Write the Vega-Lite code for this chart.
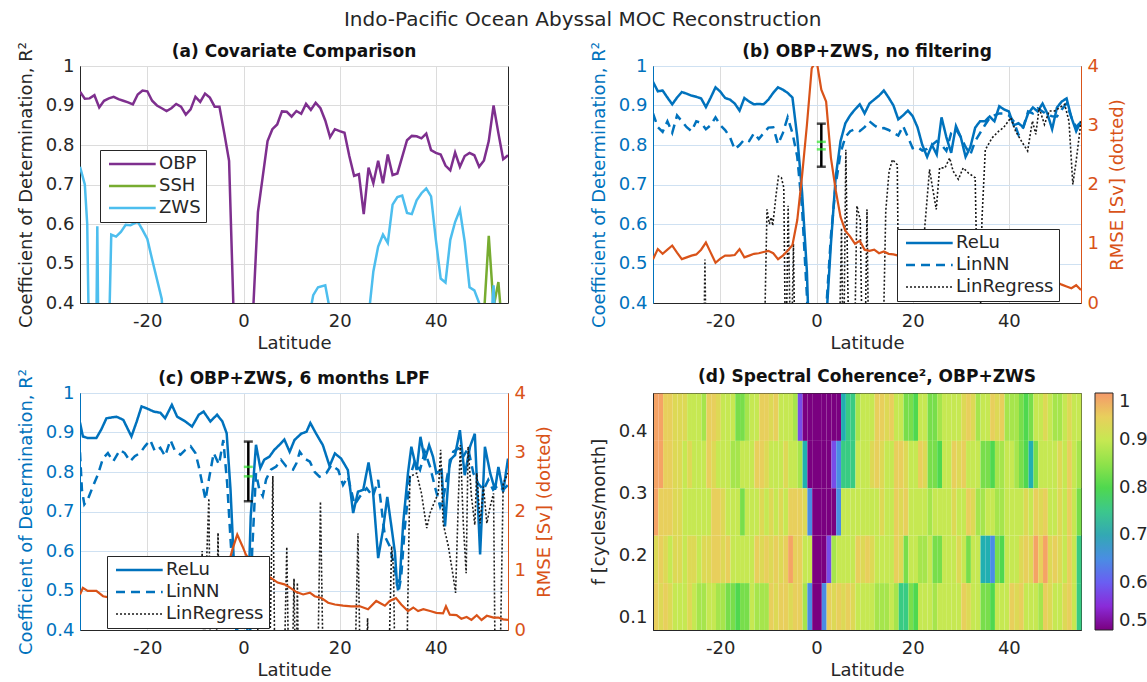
{
"$schema": "https://vega.github.io/schema/vega-lite/v6.json",
"padding": {"left": 16, "top": 10, "right": 0, "bottom": 0},
"background": "white",
"title": {"text": "Indo-Pacific Ocean Abyssal MOC Reconstruction", "fontSize": 20, "fontWeight": "normal", "color": "#262626", "anchor": "middle", "offset": 10.5},
"datasets": {
"covar": [
{"s":"OBP","lat":-34,"v":0.935},{"s":"OBP","lat":-33,"v":0.917},{"s":"OBP","lat":-32,"v":0.918},{"s":"OBP","lat":-31,"v":0.926},{"s":"OBP","lat":-30,"v":0.895},{"s":"OBP","lat":-29,"v":0.912},{"s":"OBP","lat":-28,"v":0.918},{"s":"OBP","lat":-27,"v":0.922},{"s":"OBP","lat":-26,"v":0.916},{"s":"OBP","lat":-25,"v":0.912},{"s":"OBP","lat":-24,"v":0.908},{"s":"OBP","lat":-23,"v":0.903},{"s":"OBP","lat":-22,"v":0.928},{"s":"OBP","lat":-21,"v":0.938},{"s":"OBP","lat":-20,"v":0.936},{"s":"OBP","lat":-19,"v":0.912},{"s":"OBP","lat":-18,"v":0.9},{"s":"OBP","lat":-17,"v":0.893},{"s":"OBP","lat":-16,"v":0.886},{"s":"OBP","lat":-15,"v":0.893},{"s":"OBP","lat":-14,"v":0.904},{"s":"OBP","lat":-13,"v":0.897},{"s":"OBP","lat":-12,"v":0.877},{"s":"OBP","lat":-11,"v":0.89},{"s":"OBP","lat":-10,"v":0.922},{"s":"OBP","lat":-9,"v":0.909},{"s":"OBP","lat":-8,"v":0.93},{"s":"OBP","lat":-7,"v":0.92},{"s":"OBP","lat":-6,"v":0.897},{"s":"OBP","lat":-5,"v":0.897},{"s":"OBP","lat":-4,"v":0.83},{"s":"OBP","lat":-3,"v":0.76},{"s":"OBP","lat":-2,"v":0.35},{"s":"OBP","lat":-1,"v":0.0},{"s":"OBP","lat":0,"v":-0.3},{"s":"OBP","lat":1,"v":0.0},{"s":"OBP","lat":2,"v":0.38},{"s":"OBP","lat":3,"v":0.63},{"s":"OBP","lat":4,"v":0.72},{"s":"OBP","lat":5,"v":0.81},{"s":"OBP","lat":6,"v":0.84},{"s":"OBP","lat":7,"v":0.852},{"s":"OBP","lat":8,"v":0.885},{"s":"OBP","lat":9,"v":0.884},{"s":"OBP","lat":10,"v":0.872},{"s":"OBP","lat":11,"v":0.886},{"s":"OBP","lat":12,"v":0.879},{"s":"OBP","lat":13,"v":0.904},{"s":"OBP","lat":14,"v":0.889},{"s":"OBP","lat":15,"v":0.907},{"s":"OBP","lat":16,"v":0.893},{"s":"OBP","lat":17,"v":0.862},{"s":"OBP","lat":18,"v":0.82},{"s":"OBP","lat":19,"v":0.84},{"s":"OBP","lat":20,"v":0.835},{"s":"OBP","lat":21,"v":0.831},{"s":"OBP","lat":22,"v":0.772},{"s":"OBP","lat":23,"v":0.722},{"s":"OBP","lat":24,"v":0.726},{"s":"OBP","lat":25,"v":0.625},{"s":"OBP","lat":26,"v":0.743},{"s":"OBP","lat":27,"v":0.703},{"s":"OBP","lat":28,"v":0.76},{"s":"OBP","lat":29,"v":0.703},{"s":"OBP","lat":30,"v":0.776},{"s":"OBP","lat":31,"v":0.724},{"s":"OBP","lat":32,"v":0.728},{"s":"OBP","lat":33,"v":0.77},{"s":"OBP","lat":34,"v":0.812},{"s":"OBP","lat":35,"v":0.823},{"s":"OBP","lat":36,"v":0.822},{"s":"OBP","lat":37,"v":0.817},{"s":"OBP","lat":38,"v":0.829},{"s":"OBP","lat":39,"v":0.787},{"s":"OBP","lat":40,"v":0.78},{"s":"OBP","lat":41,"v":0.776},{"s":"OBP","lat":42,"v":0.748},{"s":"OBP","lat":43,"v":0.736},{"s":"OBP","lat":44,"v":0.781},{"s":"OBP","lat":45,"v":0.745},{"s":"OBP","lat":46,"v":0.772},{"s":"OBP","lat":47,"v":0.78},{"s":"OBP","lat":48,"v":0.774},{"s":"OBP","lat":49,"v":0.745},{"s":"OBP","lat":50,"v":0.761},{"s":"OBP","lat":51,"v":0.81},{"s":"OBP","lat":52,"v":0.9},{"s":"OBP","lat":53,"v":0.83},{"s":"OBP","lat":54,"v":0.764},{"s":"OBP","lat":55,"v":0.774},
{"s":"SSH","lat":49,"v":0.2},{"s":"SSH","lat":50,"v":0.37},{"s":"SSH","lat":51,"v":0.57},{"s":"SSH","lat":52,"v":0.39},{"s":"SSH","lat":53,"v":0.453},{"s":"SSH","lat":53.5,"v":0.38},{"s":"SSH","lat":54,"v":0.2},
{"s":"ZWS","lat":-34,"v":0.745},{"s":"ZWS","lat":-33,"v":0.7},{"s":"ZWS","lat":-32.5,"v":0.6},{"s":"ZWS","lat":-32,"v":0.2},{"s":"ZWS","lat":-30.7,"v":0.2},{"s":"ZWS","lat":-30.4,"v":0.594},{"s":"ZWS","lat":-30.1,"v":0.2},{"s":"ZWS","lat":-28.2,"v":0.2},{"s":"ZWS","lat":-27.5,"v":0.573},{"s":"ZWS","lat":-26.5,"v":0.568},{"s":"ZWS","lat":-25.5,"v":0.58},{"s":"ZWS","lat":-24.5,"v":0.598},{"s":"ZWS","lat":-23.5,"v":0.597},{"s":"ZWS","lat":-22,"v":0.606},{"s":"ZWS","lat":-21,"v":0.585},{"s":"ZWS","lat":-20,"v":0.562},{"s":"ZWS","lat":-19,"v":0.51},{"s":"ZWS","lat":-18,"v":0.46},{"s":"ZWS","lat":-17,"v":0.41},{"s":"ZWS","lat":-16,"v":0.2},{"s":"ZWS","lat":13,"v":0.2},{"s":"ZWS","lat":14.2,"v":0.4},{"s":"ZWS","lat":14.5,"v":0.42},{"s":"ZWS","lat":15.5,"v":0.44},{"s":"ZWS","lat":17,"v":0.445},{"s":"ZWS","lat":18,"v":0.38},{"s":"ZWS","lat":19,"v":0.2},{"s":"ZWS","lat":25.5,"v":0.2},{"s":"ZWS","lat":26.3,"v":0.4},{"s":"ZWS","lat":27,"v":0.48},{"s":"ZWS","lat":28,"v":0.543},{"s":"ZWS","lat":29,"v":0.573},{"s":"ZWS","lat":30,"v":0.552},{"s":"ZWS","lat":31,"v":0.649},{"s":"ZWS","lat":32,"v":0.668},{"s":"ZWS","lat":33,"v":0.672},{"s":"ZWS","lat":34,"v":0.628},{"s":"ZWS","lat":35,"v":0.625},{"s":"ZWS","lat":36,"v":0.66},{"s":"ZWS","lat":37,"v":0.678},{"s":"ZWS","lat":38,"v":0.69},{"s":"ZWS","lat":39,"v":0.67},{"s":"ZWS","lat":40,"v":0.56},{"s":"ZWS","lat":41,"v":0.462},{"s":"ZWS","lat":42,"v":0.452},{"s":"ZWS","lat":43,"v":0.56},{"s":"ZWS","lat":44,"v":0.605},{"s":"ZWS","lat":45,"v":0.636},{"s":"ZWS","lat":46,"v":0.555},{"s":"ZWS","lat":47,"v":0.44},{"s":"ZWS","lat":48,"v":0.432},{"s":"ZWS","lat":49,"v":0.4},{"s":"ZWS","lat":50,"v":0.2},{"s":"ZWS","lat":51.5,"v":0.35},{"s":"ZWS","lat":52,"v":0.445},{"s":"ZWS","lat":52.5,"v":0.3},{"s":"ZWS","lat":53,"v":0.2}
],
"nofilt": [
{"s":"ReLu","lat":-34,"v":0.96},{"s":"ReLu","lat":-33,"v":0.936},{"s":"ReLu","lat":-32,"v":0.938},{"s":"ReLu","lat":-31,"v":0.92},{"s":"ReLu","lat":-30,"v":0.903},{"s":"ReLu","lat":-29,"v":0.92},{"s":"ReLu","lat":-28,"v":0.934},{"s":"ReLu","lat":-27,"v":0.93},{"s":"ReLu","lat":-26,"v":0.925},{"s":"ReLu","lat":-25,"v":0.922},{"s":"ReLu","lat":-24,"v":0.918},{"s":"ReLu","lat":-23,"v":0.896},{"s":"ReLu","lat":-22,"v":0.92},{"s":"ReLu","lat":-21,"v":0.946},{"s":"ReLu","lat":-20,"v":0.935},{"s":"ReLu","lat":-19,"v":0.919},{"s":"ReLu","lat":-18,"v":0.915},{"s":"ReLu","lat":-17,"v":0.905},{"s":"ReLu","lat":-16,"v":0.887},{"s":"ReLu","lat":-15,"v":0.919},{"s":"ReLu","lat":-14,"v":0.91},{"s":"ReLu","lat":-13,"v":0.903},{"s":"ReLu","lat":-12,"v":0.904},{"s":"ReLu","lat":-11,"v":0.903},{"s":"ReLu","lat":-10,"v":0.915},{"s":"ReLu","lat":-9,"v":0.932},{"s":"ReLu","lat":-8,"v":0.946},{"s":"ReLu","lat":-7,"v":0.94},{"s":"ReLu","lat":-6,"v":0.932},{"s":"ReLu","lat":-5,"v":0.92},{"s":"ReLu","lat":-4,"v":0.82},{"s":"ReLu","lat":-3,"v":0.68},{"s":"ReLu","lat":-2,"v":0.48},{"s":"ReLu","lat":-1,"v":0.1},{"s":"ReLu","lat":0,"v":-0.1},{"s":"ReLu","lat":1,"v":0.1},{"s":"ReLu","lat":2,"v":0.35},{"s":"ReLu","lat":3,"v":0.55},{"s":"ReLu","lat":4,"v":0.72},{"s":"ReLu","lat":5,"v":0.81},{"s":"ReLu","lat":6,"v":0.855},{"s":"ReLu","lat":7,"v":0.875},{"s":"ReLu","lat":8,"v":0.89},{"s":"ReLu","lat":9,"v":0.903},{"s":"ReLu","lat":10,"v":0.88},{"s":"ReLu","lat":11,"v":0.905},{"s":"ReLu","lat":12,"v":0.915},{"s":"ReLu","lat":13,"v":0.925},{"s":"ReLu","lat":14,"v":0.938},{"s":"ReLu","lat":15,"v":0.92},{"s":"ReLu","lat":16,"v":0.9},{"s":"ReLu","lat":17,"v":0.865},{"s":"ReLu","lat":18,"v":0.875},{"s":"ReLu","lat":19,"v":0.887},{"s":"ReLu","lat":20,"v":0.873},{"s":"ReLu","lat":21,"v":0.845},{"s":"ReLu","lat":22,"v":0.8},{"s":"ReLu","lat":23,"v":0.77},{"s":"ReLu","lat":24,"v":0.8},{"s":"ReLu","lat":25,"v":0.776},{"s":"ReLu","lat":26,"v":0.87},{"s":"ReLu","lat":27,"v":0.82},{"s":"ReLu","lat":28,"v":0.78},{"s":"ReLu","lat":29,"v":0.848},{"s":"ReLu","lat":30,"v":0.82},{"s":"ReLu","lat":31,"v":0.77},{"s":"ReLu","lat":32,"v":0.795},{"s":"ReLu","lat":33,"v":0.844},{"s":"ReLu","lat":34,"v":0.86},{"s":"ReLu","lat":35,"v":0.86},{"s":"ReLu","lat":36,"v":0.872},{"s":"ReLu","lat":37,"v":0.86},{"s":"ReLu","lat":38,"v":0.898},{"s":"ReLu","lat":39,"v":0.89},{"s":"ReLu","lat":40,"v":0.885},{"s":"ReLu","lat":41,"v":0.85},{"s":"ReLu","lat":42,"v":0.855},{"s":"ReLu","lat":43,"v":0.845},{"s":"ReLu","lat":44,"v":0.88},{"s":"ReLu","lat":45,"v":0.895},{"s":"ReLu","lat":46,"v":0.885},{"s":"ReLu","lat":47,"v":0.905},{"s":"ReLu","lat":48,"v":0.88},{"s":"ReLu","lat":49,"v":0.84},{"s":"ReLu","lat":50,"v":0.895},{"s":"ReLu","lat":51,"v":0.91},{"s":"ReLu","lat":52,"v":0.918},{"s":"ReLu","lat":53,"v":0.87},{"s":"ReLu","lat":54,"v":0.835},{"s":"ReLu","lat":55,"v":0.86},
{"s":"LinNN","lat":-34,"v":0.88},{"s":"LinNN","lat":-33,"v":0.845},{"s":"LinNN","lat":-32,"v":0.833},{"s":"LinNN","lat":-31,"v":0.86},{"s":"LinNN","lat":-30,"v":0.831},{"s":"LinNN","lat":-29,"v":0.875},{"s":"LinNN","lat":-28,"v":0.86},{"s":"LinNN","lat":-27,"v":0.845},{"s":"LinNN","lat":-26,"v":0.835},{"s":"LinNN","lat":-25,"v":0.86},{"s":"LinNN","lat":-24,"v":0.856},{"s":"LinNN","lat":-23,"v":0.84},{"s":"LinNN","lat":-22,"v":0.85},{"s":"LinNN","lat":-21,"v":0.87},{"s":"LinNN","lat":-20,"v":0.85},{"s":"LinNN","lat":-19,"v":0.838},{"s":"LinNN","lat":-18,"v":0.82},{"s":"LinNN","lat":-17,"v":0.789},{"s":"LinNN","lat":-16,"v":0.8},{"s":"LinNN","lat":-15,"v":0.814},{"s":"LinNN","lat":-14,"v":0.81},{"s":"LinNN","lat":-13,"v":0.83},{"s":"LinNN","lat":-12,"v":0.815},{"s":"LinNN","lat":-11,"v":0.83},{"s":"LinNN","lat":-10,"v":0.844},{"s":"LinNN","lat":-9,"v":0.845},{"s":"LinNN","lat":-8,"v":0.802},{"s":"LinNN","lat":-7,"v":0.83},{"s":"LinNN","lat":-6,"v":0.87},{"s":"LinNN","lat":-5,"v":0.83},{"s":"LinNN","lat":-4,"v":0.77},{"s":"LinNN","lat":-3,"v":0.64},{"s":"LinNN","lat":-2,"v":0.42},{"s":"LinNN","lat":-1,"v":0.1},{"s":"LinNN","lat":0,"v":-0.2},{"s":"LinNN","lat":1,"v":0.0},{"s":"LinNN","lat":2,"v":0.38},{"s":"LinNN","lat":3,"v":0.57},{"s":"LinNN","lat":4,"v":0.7},{"s":"LinNN","lat":5,"v":0.78},{"s":"LinNN","lat":6,"v":0.82},{"s":"LinNN","lat":7,"v":0.835},{"s":"LinNN","lat":8,"v":0.84},{"s":"LinNN","lat":9,"v":0.835},{"s":"LinNN","lat":10,"v":0.845},{"s":"LinNN","lat":11,"v":0.86},{"s":"LinNN","lat":12,"v":0.85},{"s":"LinNN","lat":13,"v":0.842},{"s":"LinNN","lat":14,"v":0.843},{"s":"LinNN","lat":15,"v":0.838},{"s":"LinNN","lat":16,"v":0.831},{"s":"LinNN","lat":17,"v":0.824},{"s":"LinNN","lat":18,"v":0.848},{"s":"LinNN","lat":19,"v":0.82},{"s":"LinNN","lat":20,"v":0.792},{"s":"LinNN","lat":21,"v":0.795},{"s":"LinNN","lat":22,"v":0.786},{"s":"LinNN","lat":23,"v":0.79},{"s":"LinNN","lat":24,"v":0.8},{"s":"LinNN","lat":25,"v":0.81},{"s":"LinNN","lat":26,"v":0.8},{"s":"LinNN","lat":27,"v":0.785},{"s":"LinNN","lat":28,"v":0.83},{"s":"LinNN","lat":29,"v":0.84},{"s":"LinNN","lat":30,"v":0.82},{"s":"LinNN","lat":31,"v":0.795},{"s":"LinNN","lat":32,"v":0.776},{"s":"LinNN","lat":33,"v":0.81},{"s":"LinNN","lat":34,"v":0.83},{"s":"LinNN","lat":35,"v":0.85},{"s":"LinNN","lat":36,"v":0.868},{"s":"LinNN","lat":37,"v":0.875},{"s":"LinNN","lat":38,"v":0.88},{"s":"LinNN","lat":39,"v":0.88},{"s":"LinNN","lat":40,"v":0.875},{"s":"LinNN","lat":41,"v":0.86},{"s":"LinNN","lat":42,"v":0.826},{"s":"LinNN","lat":43,"v":0.845},{"s":"LinNN","lat":44,"v":0.885},{"s":"LinNN","lat":45,"v":0.88},{"s":"LinNN","lat":46,"v":0.893},{"s":"LinNN","lat":47,"v":0.885},{"s":"LinNN","lat":48,"v":0.876},{"s":"LinNN","lat":49,"v":0.873},{"s":"LinNN","lat":50,"v":0.872},{"s":"LinNN","lat":51,"v":0.89},{"s":"LinNN","lat":52,"v":0.905},{"s":"LinNN","lat":53,"v":0.87},{"s":"LinNN","lat":54,"v":0.845},{"s":"LinNN","lat":55,"v":0.86},
{"s":"LinRegress","lat":-34,"v":0.2},{"s":"LinRegress","lat":-23.5,"v":0.2},{"s":"LinRegress","lat":-23.2,"v":0.51},{"s":"LinRegress","lat":-22.9,"v":0.2},{"s":"LinRegress","lat":-11,"v":0.2},{"s":"LinRegress","lat":-10.3,"v":0.637},{"s":"LinRegress","lat":-9.8,"v":0.6},{"s":"LinRegress","lat":-9.4,"v":0.617},{"s":"LinRegress","lat":-9.1,"v":0.596},{"s":"LinRegress","lat":-8.4,"v":0.675},{"s":"LinRegress","lat":-7.9,"v":0.721},{"s":"LinRegress","lat":-7.3,"v":0.717},{"s":"LinRegress","lat":-6.8,"v":0.692},{"s":"LinRegress","lat":-6.4,"v":0.2},{"s":"LinRegress","lat":-5.9,"v":0.646},{"s":"LinRegress","lat":-5.3,"v":0.2},{"s":"LinRegress","lat":-4.8,"v":0.55},{"s":"LinRegress","lat":-4.4,"v":0.2},{"s":"LinRegress","lat":4.6,"v":0.2},{"s":"LinRegress","lat":5.2,"v":0.59},{"s":"LinRegress","lat":5.6,"v":0.2},{"s":"LinRegress","lat":6.1,"v":0.788},{"s":"LinRegress","lat":6.5,"v":0.45},{"s":"LinRegress","lat":6.9,"v":0.2},{"s":"LinRegress","lat":7.8,"v":0.2},{"s":"LinRegress","lat":8.4,"v":0.646},{"s":"LinRegress","lat":9.1,"v":0.61},{"s":"LinRegress","lat":9.6,"v":0.2},{"s":"LinRegress","lat":10.0,"v":0.2},{"s":"LinRegress","lat":10.5,"v":0.637},{"s":"LinRegress","lat":10.9,"v":0.2},{"s":"LinRegress","lat":13.7,"v":0.2},{"s":"LinRegress","lat":14.4,"v":0.633},{"s":"LinRegress","lat":15.1,"v":0.734},{"s":"LinRegress","lat":15.8,"v":0.763},{"s":"LinRegress","lat":16.8,"v":0.75},{"s":"LinRegress","lat":17.2,"v":0.2},{"s":"LinRegress","lat":21.4,"v":0.2},{"s":"LinRegress","lat":22.5,"v":0.59},{"s":"LinRegress","lat":23.5,"v":0.738},{"s":"LinRegress","lat":24.2,"v":0.687},{"s":"LinRegress","lat":24.9,"v":0.637},{"s":"LinRegress","lat":25.6,"v":0.742},{"s":"LinRegress","lat":26.7,"v":0.742},{"s":"LinRegress","lat":27.7,"v":0.767},{"s":"LinRegress","lat":28.4,"v":0.734},{"s":"LinRegress","lat":29.5,"v":0.713},{"s":"LinRegress","lat":30.5,"v":0.742},{"s":"LinRegress","lat":31.6,"v":0.729},{"s":"LinRegress","lat":33.0,"v":0.717},{"s":"LinRegress","lat":33.3,"v":0.51},{"s":"LinRegress","lat":33.7,"v":0.2},{"s":"LinRegress","lat":34.0,"v":0.3},{"s":"LinRegress","lat":34.4,"v":0.61},{"s":"LinRegress","lat":35.1,"v":0.788},{"s":"LinRegress","lat":36.5,"v":0.818},{"s":"LinRegress","lat":37.9,"v":0.835},{"s":"LinRegress","lat":38.9,"v":0.844},{"s":"LinRegress","lat":40.4,"v":0.869},{"s":"LinRegress","lat":41.4,"v":0.835},{"s":"LinRegress","lat":42.8,"v":0.806},{"s":"LinRegress","lat":43.9,"v":0.785},{"s":"LinRegress","lat":44.9,"v":0.861},{"s":"LinRegress","lat":45.6,"v":0.827},{"s":"LinRegress","lat":46.3,"v":0.894},{"s":"LinRegress","lat":47.4,"v":0.852},{"s":"LinRegress","lat":48.4,"v":0.886},{"s":"LinRegress","lat":49.5,"v":0.886},{"s":"LinRegress","lat":50.5,"v":0.894},{"s":"LinRegress","lat":51.6,"v":0.903},{"s":"LinRegress","lat":52.5,"v":0.86},{"s":"LinRegress","lat":53.3,"v":0.7},{"s":"LinRegress","lat":54,"v":0.76},{"s":"LinRegress","lat":55,"v":0.86}
],
"rmse_b": [
{"lat":-34,"rmse":0.74},{"lat":-33,"rmse":0.91},{"lat":-32,"rmse":0.83},{"lat":-31,"rmse":0.9},{"lat":-30,"rmse":0.97},{"lat":-29,"rmse":0.85},{"lat":-28,"rmse":0.74},{"lat":-27,"rmse":0.77},{"lat":-26,"rmse":0.8},{"lat":-25,"rmse":0.82},{"lat":-24,"rmse":0.9},{"lat":-23,"rmse":1.02},{"lat":-22,"rmse":0.85},{"lat":-21,"rmse":0.68},{"lat":-20,"rmse":0.75},{"lat":-19,"rmse":0.8},{"lat":-18,"rmse":0.8},{"lat":-17,"rmse":0.81},{"lat":-16,"rmse":0.91},{"lat":-15,"rmse":0.77},{"lat":-14,"rmse":0.8},{"lat":-13,"rmse":0.83},{"lat":-12,"rmse":0.84},{"lat":-11,"rmse":0.86},{"lat":-10,"rmse":0.88},{"lat":-9,"rmse":0.84},{"lat":-8,"rmse":0.74},{"lat":-7,"rmse":0.8},{"lat":-6,"rmse":0.88},{"lat":-5,"rmse":0.98},{"lat":-4,"rmse":1.4},{"lat":-3,"rmse":2.15},{"lat":-2,"rmse":3.0},{"lat":-1,"rmse":3.96},{"lat":0,"rmse":4.1},{"lat":1,"rmse":3.6},{"lat":2,"rmse":3.4},{"lat":3,"rmse":2.45},{"lat":4,"rmse":1.9},{"lat":5,"rmse":1.45},{"lat":6,"rmse":1.22},{"lat":7,"rmse":1.12},{"lat":8,"rmse":1.0},{"lat":9,"rmse":1.05},{"lat":10,"rmse":0.9},{"lat":11,"rmse":0.88},{"lat":12,"rmse":0.9},{"lat":13,"rmse":0.84},{"lat":14,"rmse":0.87},{"lat":15,"rmse":0.83},{"lat":16,"rmse":0.82},{"lat":17,"rmse":0.8},{"lat":18,"rmse":0.78},{"lat":20,"rmse":0.72},{"lat":25,"rmse":0.62},{"lat":30,"rmse":0.55},{"lat":35,"rmse":0.5},{"lat":40,"rmse":0.45},{"lat":45,"rmse":0.42},{"lat":49,"rmse":0.38},{"lat":50,"rmse":0.35},{"lat":51,"rmse":0.31},{"lat":52,"rmse":0.28},{"lat":53,"rmse":0.25},{"lat":54,"rmse":0.3},{"lat":55,"rmse":0.22}
],
"eb_b": [{"lat":1,"lo":0.745,"hi":0.854}],
"mid_b": [{"lat":1,"v":0.808},{"lat":1,"v":0.789}],
"lpf": [
{"s":"ReLu","lat":-34,"v":0.925},{"s":"ReLu","lat":-33.4,"v":0.89},{"s":"ReLu","lat":-32.4,"v":0.886},{"s":"ReLu","lat":-30.6,"v":0.886},{"s":"ReLu","lat":-29.6,"v":0.907},{"s":"ReLu","lat":-28.5,"v":0.936},{"s":"ReLu","lat":-26.4,"v":0.94},{"s":"ReLu","lat":-25,"v":0.932},{"s":"ReLu","lat":-23.3,"v":0.89},{"s":"ReLu","lat":-22.2,"v":0.928},{"s":"ReLu","lat":-21.2,"v":0.966},{"s":"ReLu","lat":-20.1,"v":0.961},{"s":"ReLu","lat":-18.7,"v":0.953},{"s":"ReLu","lat":-17.3,"v":0.95},{"s":"ReLu","lat":-16.3,"v":0.936},{"s":"ReLu","lat":-14.9,"v":0.97},{"s":"ReLu","lat":-13.8,"v":0.94},{"s":"ReLu","lat":-12.1,"v":0.928},{"s":"ReLu","lat":-10.7,"v":0.915},{"s":"ReLu","lat":-9.3,"v":0.945},{"s":"ReLu","lat":-8.3,"v":0.953},{"s":"ReLu","lat":-6.9,"v":0.928},{"s":"ReLu","lat":-5.5,"v":0.945},{"s":"ReLu","lat":-4.4,"v":0.928},{"s":"ReLu","lat":-3.5,"v":0.898},{"s":"ReLu","lat":-2.7,"v":0.755},{"s":"ReLu","lat":-2.0,"v":0.57},{"s":"ReLu","lat":-1.3,"v":0.4},{"s":"ReLu","lat":-0.5,"v":0.2},{"s":"ReLu","lat":0.5,"v":0.2},{"s":"ReLu","lat":0.8,"v":0.4},{"s":"ReLu","lat":1.5,"v":0.688},{"s":"ReLu","lat":2.6,"v":0.869},{"s":"ReLu","lat":3.5,"v":0.81},{"s":"ReLu","lat":4.3,"v":0.831},{"s":"ReLu","lat":5.4,"v":0.839},{"s":"ReLu","lat":6.4,"v":0.856},{"s":"ReLu","lat":7.5,"v":0.869},{"s":"ReLu","lat":8.5,"v":0.882},{"s":"ReLu","lat":9.6,"v":0.851},{"s":"ReLu","lat":10.6,"v":0.881},{"s":"ReLu","lat":12.0,"v":0.897},{"s":"ReLu","lat":13.1,"v":0.902},{"s":"ReLu","lat":13.9,"v":0.924},{"s":"ReLu","lat":15.1,"v":0.897},{"s":"ReLu","lat":16.5,"v":0.868},{"s":"ReLu","lat":17.9,"v":0.815},{"s":"ReLu","lat":19.0,"v":0.847},{"s":"ReLu","lat":20.3,"v":0.834},{"s":"ReLu","lat":21.7,"v":0.805},{"s":"ReLu","lat":22.8,"v":0.696},{"s":"ReLu","lat":23.8,"v":0.75},{"s":"ReLu","lat":24.9,"v":0.755},{"s":"ReLu","lat":26.0,"v":0.824},{"s":"ReLu","lat":26.9,"v":0.755},{"s":"ReLu","lat":28.0,"v":0.582},{"s":"ReLu","lat":29.0,"v":0.653},{"s":"ReLu","lat":29.9,"v":0.737},{"s":"ReLu","lat":30.8,"v":0.658},{"s":"ReLu","lat":31.5,"v":0.595},{"s":"ReLu","lat":31.9,"v":0.519},{"s":"ReLu","lat":32.5,"v":0.528},{"s":"ReLu","lat":33.2,"v":0.67},{"s":"ReLu","lat":34.2,"v":0.797},{"s":"ReLu","lat":34.9,"v":0.864},{"s":"ReLu","lat":36.0,"v":0.805},{"s":"ReLu","lat":36.8,"v":0.889},{"s":"ReLu","lat":37.7,"v":0.83},{"s":"ReLu","lat":38.6,"v":0.868},{"s":"ReLu","lat":39.4,"v":0.839},{"s":"ReLu","lat":40.1,"v":0.797},{"s":"ReLu","lat":41.2,"v":0.805},{"s":"ReLu","lat":41.9,"v":0.662},{"s":"ReLu","lat":42.9,"v":0.83},{"s":"ReLu","lat":44.0,"v":0.843},{"s":"ReLu","lat":45.0,"v":0.906},{"s":"ReLu","lat":46.0,"v":0.792},{"s":"ReLu","lat":47.1,"v":0.864},{"s":"ReLu","lat":48.1,"v":0.897},{"s":"ReLu","lat":49.2,"v":0.591},{"s":"ReLu","lat":50.2,"v":0.864},{"s":"ReLu","lat":51.3,"v":0.797},{"s":"ReLu","lat":52.3,"v":0.755},{"s":"ReLu","lat":53.0,"v":0.813},{"s":"ReLu","lat":54.0,"v":0.75},{"s":"ReLu","lat":55,"v":0.834},
{"s":"LinNN","lat":-34,"v":0.85},{"s":"LinNN","lat":-33.6,"v":0.755},{"s":"LinNN","lat":-33.1,"v":0.718},{"s":"LinNN","lat":-32.4,"v":0.73},{"s":"LinNN","lat":-31.3,"v":0.764},{"s":"LinNN","lat":-30.3,"v":0.793},{"s":"LinNN","lat":-29.2,"v":0.835},{"s":"LinNN","lat":-28.2,"v":0.848},{"s":"LinNN","lat":-27.1,"v":0.827},{"s":"LinNN","lat":-25.7,"v":0.856},{"s":"LinNN","lat":-24.7,"v":0.848},{"s":"LinNN","lat":-23.6,"v":0.827},{"s":"LinNN","lat":-22.6,"v":0.84},{"s":"LinNN","lat":-21.5,"v":0.848},{"s":"LinNN","lat":-20.5,"v":0.865},{"s":"LinNN","lat":-19.4,"v":0.881},{"s":"LinNN","lat":-18.4,"v":0.852},{"s":"LinNN","lat":-17.3,"v":0.861},{"s":"LinNN","lat":-16.3,"v":0.84},{"s":"LinNN","lat":-15.2,"v":0.881},{"s":"LinNN","lat":-14.2,"v":0.852},{"s":"LinNN","lat":-13.1,"v":0.844},{"s":"LinNN","lat":-12.1,"v":0.856},{"s":"LinNN","lat":-11.0,"v":0.865},{"s":"LinNN","lat":-10.0,"v":0.848},{"s":"LinNN","lat":-9.3,"v":0.814},{"s":"LinNN","lat":-8.6,"v":0.772},{"s":"LinNN","lat":-7.9,"v":0.73},{"s":"LinNN","lat":-7.2,"v":0.781},{"s":"LinNN","lat":-6.2,"v":0.848},{"s":"LinNN","lat":-5.1,"v":0.819},{"s":"LinNN","lat":-4.2,"v":0.881},{"s":"LinNN","lat":-3.4,"v":0.772},{"s":"LinNN","lat":-2.7,"v":0.63},{"s":"LinNN","lat":-2.0,"v":0.5},{"s":"LinNN","lat":-1.5,"v":0.4},{"s":"LinNN","lat":-0.5,"v":0.2},{"s":"LinNN","lat":1.0,"v":0.2},{"s":"LinNN","lat":1.8,"v":0.6},{"s":"LinNN","lat":2.6,"v":0.797},{"s":"LinNN","lat":3.3,"v":0.755},{"s":"LinNN","lat":4.0,"v":0.739},{"s":"LinNN","lat":4.7,"v":0.781},{"s":"LinNN","lat":5.7,"v":0.806},{"s":"LinNN","lat":6.8,"v":0.814},{"s":"LinNN","lat":7.8,"v":0.831},{"s":"LinNN","lat":8.9,"v":0.814},{"s":"LinNN","lat":10.3,"v":0.806},{"s":"LinNN","lat":11.0,"v":0.822},{"s":"LinNN","lat":11.7,"v":0.851},{"s":"LinNN","lat":12.7,"v":0.834},{"s":"LinNN","lat":13.8,"v":0.826},{"s":"LinNN","lat":14.8,"v":0.8},{"s":"LinNN","lat":15.8,"v":0.788},{"s":"LinNN","lat":17.2,"v":0.797},{"s":"LinNN","lat":18.3,"v":0.818},{"s":"LinNN","lat":19.7,"v":0.805},{"s":"LinNN","lat":20.7,"v":0.767},{"s":"LinNN","lat":21.7,"v":0.788},{"s":"LinNN","lat":23.1,"v":0.717},{"s":"LinNN","lat":24.2,"v":0.738},{"s":"LinNN","lat":25.6,"v":0.759},{"s":"LinNN","lat":26.9,"v":0.738},{"s":"LinNN","lat":28.0,"v":0.78},{"s":"LinNN","lat":29.4,"v":0.637},{"s":"LinNN","lat":30.4,"v":0.612},{"s":"LinNN","lat":31.5,"v":0.553},{"s":"LinNN","lat":32.2,"v":0.494},{"s":"LinNN","lat":32.8,"v":0.536},{"s":"LinNN","lat":33.5,"v":0.654},{"s":"LinNN","lat":34.6,"v":0.788},{"s":"LinNN","lat":35.6,"v":0.826},{"s":"LinNN","lat":36.7,"v":0.805},{"s":"LinNN","lat":37.7,"v":0.851},{"s":"LinNN","lat":38.8,"v":0.813},{"s":"LinNN","lat":39.8,"v":0.763},{"s":"LinNN","lat":40.9,"v":0.712},{"s":"LinNN","lat":41.5,"v":0.73},{"s":"LinNN","lat":42.6,"v":0.805},{"s":"LinNN","lat":43.6,"v":0.851},{"s":"LinNN","lat":44.7,"v":0.86},{"s":"LinNN","lat":45.7,"v":0.839},{"s":"LinNN","lat":46.7,"v":0.86},{"s":"LinNN","lat":47.8,"v":0.797},{"s":"LinNN","lat":48.8,"v":0.771},{"s":"LinNN","lat":49.9,"v":0.755},{"s":"LinNN","lat":50.9,"v":0.78},{"s":"LinNN","lat":51.9,"v":0.755},{"s":"LinNN","lat":53.0,"v":0.767},{"s":"LinNN","lat":54.0,"v":0.755},{"s":"LinNN","lat":55,"v":0.767},
{"s":"LinRegress","lat":-34,"v":0.2},{"s":"LinRegress","lat":-9.2,"v":0.2},{"s":"LinRegress","lat":-8.6,"v":0.6},{"s":"LinRegress","lat":-8.2,"v":0.3},{"s":"LinRegress","lat":-7.6,"v":0.6},{"s":"LinRegress","lat":-7.2,"v":0.733},{"s":"LinRegress","lat":-6.8,"v":0.2},{"s":"LinRegress","lat":-5.8,"v":0.2},{"s":"LinRegress","lat":-5.3,"v":0.646},{"s":"LinRegress","lat":-4.8,"v":0.2},{"s":"LinRegress","lat":2.5,"v":0.2},{"s":"LinRegress","lat":3.2,"v":0.5},{"s":"LinRegress","lat":3.6,"v":0.2},{"s":"LinRegress","lat":5.3,"v":0.2},{"s":"LinRegress","lat":6.1,"v":0.79},{"s":"LinRegress","lat":6.6,"v":0.2},{"s":"LinRegress","lat":8.3,"v":0.2},{"s":"LinRegress","lat":9.0,"v":0.61},{"s":"LinRegress","lat":9.5,"v":0.2},{"s":"LinRegress","lat":10.0,"v":0.2},{"s":"LinRegress","lat":10.5,"v":0.53},{"s":"LinRegress","lat":10.9,"v":0.2},{"s":"LinRegress","lat":11.2,"v":0.52},{"s":"LinRegress","lat":11.5,"v":0.2},{"s":"LinRegress","lat":15.3,"v":0.2},{"s":"LinRegress","lat":16.0,"v":0.725},{"s":"LinRegress","lat":16.7,"v":0.2},{"s":"LinRegress","lat":23.0,"v":0.2},{"s":"LinRegress","lat":23.8,"v":0.645},{"s":"LinRegress","lat":24.4,"v":0.2},{"s":"LinRegress","lat":25.4,"v":0.2},{"s":"LinRegress","lat":25.8,"v":0.43},{"s":"LinRegress","lat":26.2,"v":0.2},{"s":"LinRegress","lat":30.0,"v":0.2},{"s":"LinRegress","lat":30.8,"v":0.612},{"s":"LinRegress","lat":31.2,"v":0.55},{"s":"LinRegress","lat":31.6,"v":0.2},{"s":"LinRegress","lat":33.8,"v":0.2},{"s":"LinRegress","lat":34.6,"v":0.788},{"s":"LinRegress","lat":36.0,"v":0.797},{"s":"LinRegress","lat":37.0,"v":0.746},{"s":"LinRegress","lat":38.1,"v":0.658},{"s":"LinRegress","lat":38.8,"v":0.696},{"s":"LinRegress","lat":39.6,"v":0.721},{"s":"LinRegress","lat":40.5,"v":0.746},{"s":"LinRegress","lat":41.0,"v":0.856},{"s":"LinRegress","lat":41.5,"v":0.67},{"s":"LinRegress","lat":42.6,"v":0.612},{"s":"LinRegress","lat":43.6,"v":0.536},{"s":"LinRegress","lat":44.1,"v":0.494},{"s":"LinRegress","lat":44.7,"v":0.738},{"s":"LinRegress","lat":45.1,"v":0.868},{"s":"LinRegress","lat":45.7,"v":0.67},{"s":"LinRegress","lat":46.3,"v":0.544},{"s":"LinRegress","lat":46.7,"v":0.864},{"s":"LinRegress","lat":47.4,"v":0.738},{"s":"LinRegress","lat":48.1,"v":0.666},{"s":"LinRegress","lat":48.5,"v":0.797},{"s":"LinRegress","lat":49.2,"v":0.67},{"s":"LinRegress","lat":49.9,"v":0.763},{"s":"LinRegress","lat":50.6,"v":0.67},{"s":"LinRegress","lat":51.3,"v":0.713},{"s":"LinRegress","lat":52.0,"v":0.746},{"s":"LinRegress","lat":52.4,"v":0.2},{"s":"LinRegress","lat":53.2,"v":0.2},{"s":"LinRegress","lat":54.0,"v":0.771},{"s":"LinRegress","lat":55,"v":0.797}
],
"rmse_c": [
{"lat":-34,"rmse":0.6},{"lat":-33.4,"rmse":0.71},{"lat":-32.4,"rmse":0.66},{"lat":-30.6,"rmse":0.66},{"lat":-29.2,"rmse":0.57},{"lat":-28,"rmse":0.55},{"lat":-25,"rmse":0.52},{"lat":-20,"rmse":0.5},{"lat":-15,"rmse":0.5},{"lat":-10,"rmse":0.55},{"lat":-6,"rmse":0.7},{"lat":-4,"rmse":0.95},{"lat":-3,"rmse":1.15},{"lat":-2.3,"rmse":1.36},{"lat":-1.3,"rmse":1.61},{"lat":-0.2,"rmse":1.41},{"lat":0.5,"rmse":1.27},{"lat":2,"rmse":1.12},{"lat":3,"rmse":1.02},{"lat":4.3,"rmse":0.94},{"lat":5.7,"rmse":0.88},{"lat":7.1,"rmse":0.8},{"lat":8.5,"rmse":0.77},{"lat":9.6,"rmse":0.72},{"lat":11.0,"rmse":0.64},{"lat":12.4,"rmse":0.6},{"lat":13.8,"rmse":0.63},{"lat":14.8,"rmse":0.57},{"lat":16.2,"rmse":0.54},{"lat":17.6,"rmse":0.46},{"lat":19.0,"rmse":0.43},{"lat":20.7,"rmse":0.41},{"lat":22.4,"rmse":0.4},{"lat":24.2,"rmse":0.4},{"lat":25.9,"rmse":0.35},{"lat":27.6,"rmse":0.49},{"lat":29.4,"rmse":0.41},{"lat":30.4,"rmse":0.49},{"lat":31.7,"rmse":0.54},{"lat":32.8,"rmse":0.43},{"lat":34.2,"rmse":0.32},{"lat":35.3,"rmse":0.38},{"lat":36.3,"rmse":0.32},{"lat":37.4,"rmse":0.35},{"lat":38.8,"rmse":0.32},{"lat":40.1,"rmse":0.29},{"lat":41.5,"rmse":0.28},{"lat":42.1,"rmse":0.4},{"lat":42.9,"rmse":0.26},{"lat":44.3,"rmse":0.25},{"lat":45.3,"rmse":0.19},{"lat":46.4,"rmse":0.22},{"lat":47.4,"rmse":0.17},{"lat":48.5,"rmse":0.25},{"lat":49.5,"rmse":0.17},{"lat":50.6,"rmse":0.24},{"lat":52.0,"rmse":0.21},{"lat":53.0,"rmse":0.21},{"lat":54.0,"rmse":0.18},{"lat":55,"rmse":0.17}
],
"eb_c": [{"lat":1,"lo":0.726,"hi":0.877}],
"mid_c": [{"lat":1,"v":0.813},{"lat":1,"v":0.789}],
"coh": [
{"lat":-33.5,"f":0.423,"c":0.99},{"lat":-32.5,"f":0.423,"c":0.99},{"lat":-31.5,"f":0.423,"c":0.95},{"lat":-30.5,"f":0.423,"c":0.95},{"lat":-29.5,"f":0.423,"c":0.93},{"lat":-28.5,"f":0.423,"c":0.93},{"lat":-27.5,"f":0.423,"c":0.93},{"lat":-26.5,"f":0.423,"c":0.9},{"lat":-25.5,"f":0.423,"c":0.9},{"lat":-24.5,"f":0.423,"c":0.9},{"lat":-23.5,"f":0.423,"c":0.87},{"lat":-22.5,"f":0.423,"c":0.95},{"lat":-21.5,"f":0.423,"c":0.95},{"lat":-20.5,"f":0.423,"c":0.93},{"lat":-19.5,"f":0.423,"c":0.9},{"lat":-18.5,"f":0.423,"c":0.9},{"lat":-17.5,"f":0.423,"c":0.9},{"lat":-16.5,"f":0.423,"c":0.83},{"lat":-15.5,"f":0.423,"c":0.83},{"lat":-14.5,"f":0.423,"c":0.87},{"lat":-13.5,"f":0.423,"c":0.9},{"lat":-12.5,"f":0.423,"c":0.9},{"lat":-11.5,"f":0.423,"c":0.95},{"lat":-10.5,"f":0.423,"c":0.95},{"lat":-9.5,"f":0.423,"c":0.93},{"lat":-8.5,"f":0.423,"c":0.95},{"lat":-7.5,"f":0.423,"c":0.9},{"lat":-6.5,"f":0.423,"c":0.9},{"lat":-5.5,"f":0.423,"c":0.9},{"lat":-4.5,"f":0.423,"c":0.87},{"lat":-3.5,"f":0.423,"c":0.58},{"lat":-2.5,"f":0.423,"c":0.45},{"lat":-1.5,"f":0.423,"c":0.45},{"lat":-0.5,"f":0.423,"c":0.45},{"lat":0.5,"f":0.423,"c":0.45},{"lat":1.5,"f":0.423,"c":0.45},{"lat":2.5,"f":0.423,"c":0.45},{"lat":3.5,"f":0.423,"c":0.45},{"lat":4.5,"f":0.423,"c":0.45},{"lat":5.5,"f":0.423,"c":0.71},{"lat":6.5,"f":0.423,"c":0.76},{"lat":7.5,"f":0.423,"c":0.76},{"lat":8.5,"f":0.423,"c":0.87},{"lat":9.5,"f":0.423,"c":0.9},{"lat":10.5,"f":0.423,"c":0.9},{"lat":11.5,"f":0.423,"c":0.9},{"lat":12.5,"f":0.423,"c":0.95},{"lat":13.5,"f":0.423,"c":0.95},{"lat":14.5,"f":0.423,"c":0.93},{"lat":15.5,"f":0.423,"c":0.95},{"lat":16.5,"f":0.423,"c":0.9},{"lat":17.5,"f":0.423,"c":0.9},{"lat":18.5,"f":0.423,"c":0.83},{"lat":19.5,"f":0.423,"c":0.83},{"lat":20.5,"f":0.423,"c":0.8},{"lat":21.5,"f":0.423,"c":0.9},{"lat":22.5,"f":0.423,"c":0.9},{"lat":23.5,"f":0.423,"c":0.83},{"lat":24.5,"f":0.423,"c":0.83},{"lat":25.5,"f":0.423,"c":0.87},{"lat":26.5,"f":0.423,"c":0.9},{"lat":27.5,"f":0.423,"c":0.9},{"lat":28.5,"f":0.423,"c":0.9},{"lat":29.5,"f":0.423,"c":0.9},{"lat":30.5,"f":0.423,"c":0.93},{"lat":31.5,"f":0.423,"c":0.95},{"lat":32.5,"f":0.423,"c":0.93},{"lat":33.5,"f":0.423,"c":0.87},{"lat":34.5,"f":0.423,"c":0.9},{"lat":35.5,"f":0.423,"c":0.9},{"lat":36.5,"f":0.423,"c":0.95},{"lat":37.5,"f":0.423,"c":0.93},{"lat":38.5,"f":0.423,"c":0.95},{"lat":39.5,"f":0.423,"c":0.87},{"lat":40.5,"f":0.423,"c":0.87},{"lat":41.5,"f":0.423,"c":0.87},{"lat":42.5,"f":0.423,"c":0.83},{"lat":43.5,"f":0.423,"c":0.8},{"lat":44.5,"f":0.423,"c":0.83},{"lat":45.5,"f":0.423,"c":0.9},{"lat":46.5,"f":0.423,"c":0.9},{"lat":47.5,"f":0.423,"c":0.93},{"lat":48.5,"f":0.423,"c":0.9},{"lat":49.5,"f":0.423,"c":0.87},{"lat":50.5,"f":0.423,"c":0.87},{"lat":51.5,"f":0.423,"c":0.9},{"lat":52.5,"f":0.423,"c":0.93},{"lat":53.5,"f":0.423,"c":0.9},{"lat":54.5,"f":0.423,"c":0.9},
{"lat":-33.5,"f":0.347,"c":0.99},{"lat":-32.5,"f":0.347,"c":0.99},{"lat":-31.5,"f":0.347,"c":0.95},{"lat":-30.5,"f":0.347,"c":0.95},{"lat":-29.5,"f":0.347,"c":0.93},{"lat":-28.5,"f":0.347,"c":0.93},{"lat":-27.5,"f":0.347,"c":0.9},{"lat":-26.5,"f":0.347,"c":0.93},{"lat":-25.5,"f":0.347,"c":0.9},{"lat":-24.5,"f":0.347,"c":0.9},{"lat":-23.5,"f":0.347,"c":0.9},{"lat":-22.5,"f":0.347,"c":0.95},{"lat":-21.5,"f":0.347,"c":0.93},{"lat":-20.5,"f":0.347,"c":0.9},{"lat":-19.5,"f":0.347,"c":0.9},{"lat":-18.5,"f":0.347,"c":0.9},{"lat":-17.5,"f":0.347,"c":0.87},{"lat":-16.5,"f":0.347,"c":0.87},{"lat":-15.5,"f":0.347,"c":0.9},{"lat":-14.5,"f":0.347,"c":0.9},{"lat":-13.5,"f":0.347,"c":0.9},{"lat":-12.5,"f":0.347,"c":0.95},{"lat":-11.5,"f":0.347,"c":0.95},{"lat":-10.5,"f":0.347,"c":0.93},{"lat":-9.5,"f":0.347,"c":0.9},{"lat":-8.5,"f":0.347,"c":0.9},{"lat":-7.5,"f":0.347,"c":0.9},{"lat":-6.5,"f":0.347,"c":0.93},{"lat":-5.5,"f":0.347,"c":0.9},{"lat":-4.5,"f":0.347,"c":0.9},{"lat":-3.5,"f":0.347,"c":0.87},{"lat":-2.5,"f":0.347,"c":0.71},{"lat":-1.5,"f":0.347,"c":0.45},{"lat":-0.5,"f":0.347,"c":0.45},{"lat":0.5,"f":0.347,"c":0.45},{"lat":1.5,"f":0.347,"c":0.45},{"lat":2.5,"f":0.347,"c":0.45},{"lat":3.5,"f":0.347,"c":0.58},{"lat":4.5,"f":0.347,"c":0.65},{"lat":5.5,"f":0.347,"c":0.76},{"lat":6.5,"f":0.347,"c":0.76},{"lat":7.5,"f":0.347,"c":0.76},{"lat":8.5,"f":0.347,"c":0.9},{"lat":9.5,"f":0.347,"c":0.9},{"lat":10.5,"f":0.347,"c":0.9},{"lat":11.5,"f":0.347,"c":0.93},{"lat":12.5,"f":0.347,"c":0.95},{"lat":13.5,"f":0.347,"c":0.93},{"lat":14.5,"f":0.347,"c":0.9},{"lat":15.5,"f":0.347,"c":0.9},{"lat":16.5,"f":0.347,"c":0.95},{"lat":17.5,"f":0.347,"c":0.95},{"lat":18.5,"f":0.347,"c":0.93},{"lat":19.5,"f":0.347,"c":0.9},{"lat":20.5,"f":0.347,"c":0.9},{"lat":21.5,"f":0.347,"c":0.95},{"lat":22.5,"f":0.347,"c":0.93},{"lat":23.5,"f":0.347,"c":0.83},{"lat":24.5,"f":0.347,"c":0.83},{"lat":25.5,"f":0.347,"c":0.8},{"lat":26.5,"f":0.347,"c":0.9},{"lat":27.5,"f":0.347,"c":0.9},{"lat":28.5,"f":0.347,"c":0.95},{"lat":29.5,"f":0.347,"c":0.93},{"lat":30.5,"f":0.347,"c":0.95},{"lat":31.5,"f":0.347,"c":0.9},{"lat":32.5,"f":0.347,"c":0.9},{"lat":33.5,"f":0.347,"c":0.9},{"lat":34.5,"f":0.347,"c":0.83},{"lat":35.5,"f":0.347,"c":0.83},{"lat":36.5,"f":0.347,"c":0.8},{"lat":37.5,"f":0.347,"c":0.87},{"lat":38.5,"f":0.347,"c":0.87},{"lat":39.5,"f":0.347,"c":0.9},{"lat":40.5,"f":0.347,"c":0.9},{"lat":41.5,"f":0.347,"c":0.87},{"lat":42.5,"f":0.347,"c":0.83},{"lat":43.5,"f":0.347,"c":0.8},{"lat":44.5,"f":0.347,"c":0.71},{"lat":45.5,"f":0.347,"c":0.83},{"lat":46.5,"f":0.347,"c":0.9},{"lat":47.5,"f":0.347,"c":0.9},{"lat":48.5,"f":0.347,"c":0.9},{"lat":49.5,"f":0.347,"c":0.9},{"lat":50.5,"f":0.347,"c":0.93},{"lat":51.5,"f":0.347,"c":0.9},{"lat":52.5,"f":0.347,"c":0.95},{"lat":53.5,"f":0.347,"c":0.9},{"lat":54.5,"f":0.347,"c":0.87},
{"lat":-33.5,"f":0.27,"c":0.99},{"lat":-32.5,"f":0.27,"c":0.95},{"lat":-31.5,"f":0.27,"c":0.95},{"lat":-30.5,"f":0.27,"c":0.95},{"lat":-29.5,"f":0.27,"c":0.93},{"lat":-28.5,"f":0.27,"c":0.93},{"lat":-27.5,"f":0.27,"c":0.9},{"lat":-26.5,"f":0.27,"c":0.9},{"lat":-25.5,"f":0.27,"c":0.9},{"lat":-24.5,"f":0.27,"c":0.9},{"lat":-23.5,"f":0.27,"c":0.9},{"lat":-22.5,"f":0.27,"c":0.9},{"lat":-21.5,"f":0.27,"c":0.95},{"lat":-20.5,"f":0.27,"c":0.95},{"lat":-19.5,"f":0.27,"c":0.93},{"lat":-18.5,"f":0.27,"c":0.9},{"lat":-17.5,"f":0.27,"c":0.9},{"lat":-16.5,"f":0.27,"c":0.9},{"lat":-15.5,"f":0.27,"c":0.83},{"lat":-14.5,"f":0.27,"c":0.9},{"lat":-13.5,"f":0.27,"c":0.9},{"lat":-12.5,"f":0.27,"c":0.9},{"lat":-11.5,"f":0.27,"c":0.93},{"lat":-10.5,"f":0.27,"c":0.9},{"lat":-9.5,"f":0.27,"c":0.93},{"lat":-8.5,"f":0.27,"c":0.9},{"lat":-7.5,"f":0.27,"c":0.93},{"lat":-6.5,"f":0.27,"c":0.9},{"lat":-5.5,"f":0.27,"c":0.95},{"lat":-4.5,"f":0.27,"c":0.95},{"lat":-3.5,"f":0.27,"c":0.95},{"lat":-2.5,"f":0.27,"c":0.93},{"lat":-1.5,"f":0.27,"c":0.65},{"lat":-0.5,"f":0.27,"c":0.45},{"lat":0.5,"f":0.27,"c":0.45},{"lat":1.5,"f":0.27,"c":0.45},{"lat":2.5,"f":0.27,"c":0.45},{"lat":3.5,"f":0.27,"c":0.45},{"lat":4.5,"f":0.27,"c":0.65},{"lat":5.5,"f":0.27,"c":0.9},{"lat":6.5,"f":0.27,"c":0.9},{"lat":7.5,"f":0.27,"c":0.9},{"lat":8.5,"f":0.27,"c":0.9},{"lat":9.5,"f":0.27,"c":0.9},{"lat":10.5,"f":0.27,"c":0.9},{"lat":11.5,"f":0.27,"c":0.9},{"lat":12.5,"f":0.27,"c":0.9},{"lat":13.5,"f":0.27,"c":0.93},{"lat":14.5,"f":0.27,"c":0.9},{"lat":15.5,"f":0.27,"c":0.9},{"lat":16.5,"f":0.27,"c":0.95},{"lat":17.5,"f":0.27,"c":0.93},{"lat":18.5,"f":0.27,"c":0.95},{"lat":19.5,"f":0.27,"c":0.9},{"lat":20.5,"f":0.27,"c":0.9},{"lat":21.5,"f":0.27,"c":0.9},{"lat":22.5,"f":0.27,"c":0.9},{"lat":23.5,"f":0.27,"c":0.87},{"lat":24.5,"f":0.27,"c":0.9},{"lat":25.5,"f":0.27,"c":0.9},{"lat":26.5,"f":0.27,"c":0.9},{"lat":27.5,"f":0.27,"c":0.9},{"lat":28.5,"f":0.27,"c":0.93},{"lat":29.5,"f":0.27,"c":0.9},{"lat":30.5,"f":0.27,"c":0.9},{"lat":31.5,"f":0.27,"c":0.95},{"lat":32.5,"f":0.27,"c":0.93},{"lat":33.5,"f":0.27,"c":0.87},{"lat":34.5,"f":0.27,"c":0.87},{"lat":35.5,"f":0.27,"c":0.9},{"lat":36.5,"f":0.27,"c":0.9},{"lat":37.5,"f":0.27,"c":0.87},{"lat":38.5,"f":0.27,"c":0.87},{"lat":39.5,"f":0.27,"c":0.9},{"lat":40.5,"f":0.27,"c":0.9},{"lat":41.5,"f":0.27,"c":0.9},{"lat":42.5,"f":0.27,"c":0.9},{"lat":43.5,"f":0.27,"c":0.93},{"lat":44.5,"f":0.27,"c":0.9},{"lat":45.5,"f":0.27,"c":0.95},{"lat":46.5,"f":0.27,"c":0.93},{"lat":47.5,"f":0.27,"c":0.95},{"lat":48.5,"f":0.27,"c":0.9},{"lat":49.5,"f":0.27,"c":0.9},{"lat":50.5,"f":0.27,"c":0.93},{"lat":51.5,"f":0.27,"c":0.9},{"lat":52.5,"f":0.27,"c":0.95},{"lat":53.5,"f":0.27,"c":0.9},{"lat":54.5,"f":0.27,"c":0.83},
{"lat":-33.5,"f":0.194,"c":0.93},{"lat":-32.5,"f":0.194,"c":0.95},{"lat":-31.5,"f":0.194,"c":0.93},{"lat":-30.5,"f":0.194,"c":0.9},{"lat":-29.5,"f":0.194,"c":0.93},{"lat":-28.5,"f":0.194,"c":0.93},{"lat":-27.5,"f":0.194,"c":0.9},{"lat":-26.5,"f":0.194,"c":0.93},{"lat":-25.5,"f":0.194,"c":0.93},{"lat":-24.5,"f":0.194,"c":0.9},{"lat":-23.5,"f":0.194,"c":0.93},{"lat":-22.5,"f":0.194,"c":0.93},{"lat":-21.5,"f":0.194,"c":0.95},{"lat":-20.5,"f":0.194,"c":0.95},{"lat":-19.5,"f":0.194,"c":0.93},{"lat":-18.5,"f":0.194,"c":0.95},{"lat":-17.5,"f":0.194,"c":0.9},{"lat":-16.5,"f":0.194,"c":0.9},{"lat":-15.5,"f":0.194,"c":0.9},{"lat":-14.5,"f":0.194,"c":0.9},{"lat":-13.5,"f":0.194,"c":0.9},{"lat":-12.5,"f":0.194,"c":0.95},{"lat":-11.5,"f":0.194,"c":0.93},{"lat":-10.5,"f":0.194,"c":0.95},{"lat":-9.5,"f":0.194,"c":0.93},{"lat":-8.5,"f":0.194,"c":0.95},{"lat":-7.5,"f":0.194,"c":0.93},{"lat":-6.5,"f":0.194,"c":0.95},{"lat":-5.5,"f":0.194,"c":0.99},{"lat":-4.5,"f":0.194,"c":0.95},{"lat":-3.5,"f":0.194,"c":0.95},{"lat":-2.5,"f":0.194,"c":0.9},{"lat":-1.5,"f":0.194,"c":0.9},{"lat":-0.5,"f":0.194,"c":0.45},{"lat":0.5,"f":0.194,"c":0.45},{"lat":1.5,"f":0.194,"c":0.45},{"lat":2.5,"f":0.194,"c":0.58},{"lat":3.5,"f":0.194,"c":0.87},{"lat":4.5,"f":0.194,"c":0.9},{"lat":5.5,"f":0.194,"c":0.9},{"lat":6.5,"f":0.194,"c":0.9},{"lat":7.5,"f":0.194,"c":0.9},{"lat":8.5,"f":0.194,"c":0.95},{"lat":9.5,"f":0.194,"c":0.93},{"lat":10.5,"f":0.194,"c":0.95},{"lat":11.5,"f":0.194,"c":0.93},{"lat":12.5,"f":0.194,"c":0.9},{"lat":13.5,"f":0.194,"c":0.9},{"lat":14.5,"f":0.194,"c":0.9},{"lat":15.5,"f":0.194,"c":0.9},{"lat":16.5,"f":0.194,"c":0.95},{"lat":17.5,"f":0.194,"c":0.93},{"lat":18.5,"f":0.194,"c":0.83},{"lat":19.5,"f":0.194,"c":0.9},{"lat":20.5,"f":0.194,"c":0.9},{"lat":21.5,"f":0.194,"c":0.87},{"lat":22.5,"f":0.194,"c":0.87},{"lat":23.5,"f":0.194,"c":0.9},{"lat":24.5,"f":0.194,"c":0.83},{"lat":25.5,"f":0.194,"c":0.83},{"lat":26.5,"f":0.194,"c":0.9},{"lat":27.5,"f":0.194,"c":0.9},{"lat":28.5,"f":0.194,"c":0.9},{"lat":29.5,"f":0.194,"c":0.93},{"lat":30.5,"f":0.194,"c":0.9},{"lat":31.5,"f":0.194,"c":0.83},{"lat":32.5,"f":0.194,"c":0.9},{"lat":33.5,"f":0.194,"c":0.9},{"lat":34.5,"f":0.194,"c":0.71},{"lat":35.5,"f":0.194,"c":0.71},{"lat":36.5,"f":0.194,"c":0.65},{"lat":37.5,"f":0.194,"c":0.83},{"lat":38.5,"f":0.194,"c":0.8},{"lat":39.5,"f":0.194,"c":0.9},{"lat":40.5,"f":0.194,"c":0.9},{"lat":41.5,"f":0.194,"c":0.9},{"lat":42.5,"f":0.194,"c":0.93},{"lat":43.5,"f":0.194,"c":0.95},{"lat":44.5,"f":0.194,"c":0.93},{"lat":45.5,"f":0.194,"c":0.99},{"lat":46.5,"f":0.194,"c":0.95},{"lat":47.5,"f":0.194,"c":0.99},{"lat":48.5,"f":0.194,"c":0.93},{"lat":49.5,"f":0.194,"c":0.95},{"lat":50.5,"f":0.194,"c":0.93},{"lat":51.5,"f":0.194,"c":0.9},{"lat":52.5,"f":0.194,"c":0.95},{"lat":53.5,"f":0.194,"c":0.9},{"lat":54.5,"f":0.194,"c":0.76},
{"lat":-33.5,"f":0.117,"c":0.95},{"lat":-32.5,"f":0.117,"c":0.93},{"lat":-31.5,"f":0.117,"c":0.95},{"lat":-30.5,"f":0.117,"c":0.93},{"lat":-29.5,"f":0.117,"c":0.9},{"lat":-28.5,"f":0.117,"c":0.9},{"lat":-27.5,"f":0.117,"c":0.9},{"lat":-26.5,"f":0.117,"c":0.93},{"lat":-25.5,"f":0.117,"c":0.9},{"lat":-24.5,"f":0.117,"c":0.87},{"lat":-23.5,"f":0.117,"c":0.87},{"lat":-22.5,"f":0.117,"c":0.9},{"lat":-21.5,"f":0.117,"c":0.9},{"lat":-20.5,"f":0.117,"c":0.87},{"lat":-19.5,"f":0.117,"c":0.87},{"lat":-18.5,"f":0.117,"c":0.83},{"lat":-17.5,"f":0.117,"c":0.83},{"lat":-16.5,"f":0.117,"c":0.8},{"lat":-15.5,"f":0.117,"c":0.83},{"lat":-14.5,"f":0.117,"c":0.83},{"lat":-13.5,"f":0.117,"c":0.9},{"lat":-12.5,"f":0.117,"c":0.87},{"lat":-11.5,"f":0.117,"c":0.87},{"lat":-10.5,"f":0.117,"c":0.87},{"lat":-9.5,"f":0.117,"c":0.95},{"lat":-8.5,"f":0.117,"c":0.93},{"lat":-7.5,"f":0.117,"c":0.95},{"lat":-6.5,"f":0.117,"c":0.95},{"lat":-5.5,"f":0.117,"c":0.93},{"lat":-4.5,"f":0.117,"c":0.95},{"lat":-3.5,"f":0.117,"c":0.95},{"lat":-2.5,"f":0.117,"c":0.87},{"lat":-1.5,"f":0.117,"c":0.65},{"lat":-0.5,"f":0.117,"c":0.45},{"lat":0.5,"f":0.117,"c":0.45},{"lat":1.5,"f":0.117,"c":0.65},{"lat":2.5,"f":0.117,"c":0.95},{"lat":3.5,"f":0.117,"c":0.93},{"lat":4.5,"f":0.117,"c":0.95},{"lat":5.5,"f":0.117,"c":0.93},{"lat":6.5,"f":0.117,"c":0.95},{"lat":7.5,"f":0.117,"c":0.93},{"lat":8.5,"f":0.117,"c":0.9},{"lat":9.5,"f":0.117,"c":0.9},{"lat":10.5,"f":0.117,"c":0.9},{"lat":11.5,"f":0.117,"c":0.9},{"lat":12.5,"f":0.117,"c":0.87},{"lat":13.5,"f":0.117,"c":0.87},{"lat":14.5,"f":0.117,"c":0.87},{"lat":15.5,"f":0.117,"c":0.9},{"lat":16.5,"f":0.117,"c":0.87},{"lat":17.5,"f":0.117,"c":0.76},{"lat":18.5,"f":0.117,"c":0.76},{"lat":19.5,"f":0.117,"c":0.83},{"lat":20.5,"f":0.117,"c":0.8},{"lat":21.5,"f":0.117,"c":0.9},{"lat":22.5,"f":0.117,"c":0.9},{"lat":23.5,"f":0.117,"c":0.9},{"lat":24.5,"f":0.117,"c":0.87},{"lat":25.5,"f":0.117,"c":0.9},{"lat":26.5,"f":0.117,"c":0.9},{"lat":27.5,"f":0.117,"c":0.9},{"lat":28.5,"f":0.117,"c":0.9},{"lat":29.5,"f":0.117,"c":0.9},{"lat":30.5,"f":0.117,"c":0.95},{"lat":31.5,"f":0.117,"c":0.93},{"lat":32.5,"f":0.117,"c":0.9},{"lat":33.5,"f":0.117,"c":0.9},{"lat":34.5,"f":0.117,"c":0.83},{"lat":35.5,"f":0.117,"c":0.83},{"lat":36.5,"f":0.117,"c":0.8},{"lat":37.5,"f":0.117,"c":0.9},{"lat":38.5,"f":0.117,"c":0.9},{"lat":39.5,"f":0.117,"c":0.9},{"lat":40.5,"f":0.117,"c":0.95},{"lat":41.5,"f":0.117,"c":0.93},{"lat":42.5,"f":0.117,"c":0.95},{"lat":43.5,"f":0.117,"c":0.9},{"lat":44.5,"f":0.117,"c":0.9},{"lat":45.5,"f":0.117,"c":0.9},{"lat":46.5,"f":0.117,"c":0.87},{"lat":47.5,"f":0.117,"c":0.95},{"lat":48.5,"f":0.117,"c":0.93},{"lat":49.5,"f":0.117,"c":0.9},{"lat":50.5,"f":0.117,"c":0.9},{"lat":51.5,"f":0.117,"c":0.93},{"lat":52.5,"f":0.117,"c":0.95},{"lat":53.5,"f":0.117,"c":0.9},{"lat":54.5,"f":0.117,"c":0.76}
]
},
"bounds": "flush",
"columns": 2,
"spacing": {"row": 90, "column": 145},
"resolve": {"scale": {"color": "independent", "strokeDash": "independent", "strokeWidth": "independent", "x": "independent", "y": "independent"}, "legend": {"color": "independent", "strokeDash": "independent", "strokeWidth": "independent"}},
"concat": [
{
"width": 428, "height": 237,
"title": {"text": "(a) Covariate Comparison", "offset": -20},
"data": {"name": "covar"},
"mark": {"type": "line", "clip": true, "strokeWidth": 2.5},
"encoding": {
"x": {"field": "lat", "type": "quantitative", "scale": {"domain": [-34, 55], "nice": false, "zero": false}, "axis": {"title": "Latitude", "values": [-20, 0, 20, 40], "labelExpr": "'' + datum.value", "grid": true}},
"y": {"field": "v", "type": "quantitative", "scale": {"domain": [0.4, 1], "nice": false, "zero": false}, "axis": {"title": "Coefficient of Determination, R²", "values": [0.4, 0.5, 0.6, 0.7, 0.8, 0.9, 1], "format": ".1~f", "grid": true}},
"color": {"field": "s", "type": "nominal", "scale": {"domain": ["OBP", "SSH", "ZWS"], "range": ["#7E2F8E", "#77AC30", "#4DBEEE"]},
"legend": {"orient": "none", "legendX": 20, "legendY": 84, "title": null, "symbolType": "M-1,0L8.34,0", "symbolSize": 100, "symbolStrokeWidth": 2.5, "strokeColor": "#262626", "fillColor": "white", "padding": 5, "labelFontSize": 18, "rowPadding": 4, "labelOffset": 36, "cornerRadius": 0}}
}
},
{
"width": 428, "height": 237,
"title": {"text": "(b) OBP+ZWS, no filtering", "offset": -20},
"layer": [
{
"data": {"name": "nofilt"},
"mark": {"type": "line", "clip": true},
"encoding": {
"x": {"field": "lat", "type": "quantitative", "scale": {"domain": [-34, 55], "nice": false, "zero": false}, "axis": {"title": "Latitude", "values": [-20, 0, 20, 40], "labelExpr": "'' + datum.value", "grid": true}},
"y": {"field": "v", "type": "quantitative", "scale": {"domain": [0.4, 1], "nice": false, "zero": false}, "axis": {"title": "Coefficient of Determination, R²", "values": [0.4, 0.5, 0.6, 0.7, 0.8, 0.9, 1], "format": ".1~f", "grid": true, "gridColor": "#CFE1F2", "domainColor": "#0072BD", "labelColor": "#0072BD", "titleColor": "#0072BD"}},
"color": {"field": "s", "type": "nominal", "scale": {"domain": ["ReLu", "LinNN", "LinRegress"], "range": ["#0072BD", "#0072BD", "#1A1A1A"]},
"legend": {"orient": "none", "legendX": 244, "legendY": 163, "title": null, "symbolType": "M-1,0L8.34,0", "symbolSize": 100, "strokeColor": "#262626", "fillColor": "white", "padding": 5, "labelFontSize": 18, "rowPadding": 4, "labelOffset": 36, "cornerRadius": 0}},
"strokeDash": {"field": "s", "type": "nominal", "scale": {"domain": ["ReLu", "LinNN", "LinRegress"], "range": [[1, 0], [9, 6], [2, 2]]}},
"strokeWidth": {"field": "s", "type": "ordinal", "scale": {"type": "ordinal", "domain": ["ReLu", "LinNN", "LinRegress"], "range": [2.5, 2.5, 1.6]}}
}
},
{
"data": {"name": "rmse_b"},
"mark": {"type": "line", "clip": true, "color": "#D95319", "strokeWidth": 2.2},
"encoding": {
"x": {"field": "lat", "type": "quantitative"},
"y": {"field": "rmse", "type": "quantitative", "scale": {"domain": [0, 4], "nice": false, "zero": false}, "axis": {"orient": "right", "title": "RMSE [Sv] (dotted)", "values": [0, 1, 2, 3, 4], "grid": false, "domainColor": "#D95319", "labelColor": "#D95319", "titleColor": "#D95319", "titleAngle": 270, "titleBaseline": "top"}}
}
},
{
"data": {"name": "eb_b"},
"mark": {"type": "errorbar", "ticks": true, "thickness": 2.5, "size": 9, "color": "black"},
"encoding": {
"x": {"field": "lat", "type": "quantitative"},
"y": {"field": "lo", "type": "quantitative", "scale": {"domain": [0.4, 1], "nice": false, "zero": false}, "axis": null},
"y2": {"field": "hi"}
}
},
{
"data": {"name": "mid_b"},
"mark": {"type": "tick", "orient": "horizontal", "color": "#2EE62E", "size": 9, "thickness": 2.5},
"encoding": {
"x": {"field": "lat", "type": "quantitative"},
"y": {"field": "v", "type": "quantitative", "scale": {"domain": [0.4, 1], "nice": false, "zero": false}, "axis": null}
}
}
],
"resolve": {"scale": {"y": "independent"}, "axis": {"y": "independent"}}
},
{
"width": 428, "height": 237,
"title": {"text": "(c) OBP+ZWS, 6 months LPF", "offset": -20},
"layer": [
{
"data": {"name": "lpf"},
"mark": {"type": "line", "clip": true},
"encoding": {
"x": {"field": "lat", "type": "quantitative", "scale": {"domain": [-34, 55], "nice": false, "zero": false}, "axis": {"title": "Latitude", "values": [-20, 0, 20, 40], "labelExpr": "'' + datum.value", "grid": true}},
"y": {"field": "v", "type": "quantitative", "scale": {"domain": [0.4, 1], "nice": false, "zero": false}, "axis": {"title": "Coefficient of Determination, R²", "values": [0.4, 0.5, 0.6, 0.7, 0.8, 0.9, 1], "format": ".1~f", "grid": true, "gridColor": "#CFE1F2", "domainColor": "#0072BD", "labelColor": "#0072BD", "titleColor": "#0072BD"}},
"color": {"field": "s", "type": "nominal", "scale": {"domain": ["ReLu", "LinNN", "LinRegress"], "range": ["#0072BD", "#0072BD", "#1A1A1A"]},
"legend": {"orient": "none", "legendX": 27, "legendY": 163, "title": null, "symbolType": "M-1,0L8.34,0", "symbolSize": 100, "strokeColor": "#262626", "fillColor": "white", "padding": 5, "labelFontSize": 18, "rowPadding": 4, "labelOffset": 36, "cornerRadius": 0}},
"strokeDash": {"field": "s", "type": "nominal", "scale": {"domain": ["ReLu", "LinNN", "LinRegress"], "range": [[1, 0], [9, 6], [2, 2]]}},
"strokeWidth": {"field": "s", "type": "ordinal", "scale": {"type": "ordinal", "domain": ["ReLu", "LinNN", "LinRegress"], "range": [2.5, 2.5, 1.6]}}
}
},
{
"data": {"name": "rmse_c"},
"mark": {"type": "line", "clip": true, "color": "#D95319", "strokeWidth": 2.2},
"encoding": {
"x": {"field": "lat", "type": "quantitative"},
"y": {"field": "rmse", "type": "quantitative", "scale": {"domain": [0, 4], "nice": false, "zero": false}, "axis": {"orient": "right", "title": "RMSE [Sv] (dotted)", "values": [0, 1, 2, 3, 4], "grid": false, "domainColor": "#D95319", "labelColor": "#D95319", "titleColor": "#D95319", "titleAngle": 270, "titleBaseline": "top"}}
}
},
{
"data": {"name": "eb_c"},
"mark": {"type": "errorbar", "ticks": true, "thickness": 2.5, "size": 9, "color": "black"},
"encoding": {
"x": {"field": "lat", "type": "quantitative"},
"y": {"field": "lo", "type": "quantitative", "scale": {"domain": [0.4, 1], "nice": false, "zero": false}, "axis": null},
"y2": {"field": "hi"}
}
},
{
"data": {"name": "mid_c"},
"mark": {"type": "tick", "orient": "horizontal", "color": "#2EE62E", "size": 9, "thickness": 2.5},
"encoding": {
"x": {"field": "lat", "type": "quantitative"},
"y": {"field": "v", "type": "quantitative", "scale": {"domain": [0.4, 1], "nice": false, "zero": false}, "axis": null}
}
}
],
"resolve": {"scale": {"y": "independent"}, "axis": {"y": "independent"}}
},
{
"width": 428, "height": 237,
"title": {"text": "(d) Spectral Coherence², OBP+ZWS", "offset": 7},
"data": {"name": "coh"},
"mark": {"type": "rect"},
"encoding": {
"x": {"field": "lat", "type": "quantitative", "bin": {"extent": [-34, 55], "step": 1, "nice": false}, "scale": {"domain": [-34, 55], "nice": false, "zero": false}, "axis": {"title": "Latitude", "values": [-20, 0, 20, 40], "labelExpr": "'' + datum.value", "grid": false}},
"y": {"field": "f", "type": "quantitative", "bin": {"extent": [0.079, 0.462], "step": 0.0766, "nice": false}, "scale": {"domain": [0.079, 0.462], "nice": false, "zero": false}, "axis": {"title": "f [cycles/month]", "values": [0.1, 0.2, 0.3, 0.4], "format": ".1f", "grid": false}},
"color": {"field": "c", "type": "quantitative",
"scale": {"type": "linear", "domain": [0.5, 0.55, 0.6, 0.65, 0.7, 0.75, 0.8, 0.85, 0.9, 0.95, 1], "range": ["#7A0080", "#8A2BD8", "#6A5EF2", "#4A8DE3", "#33A8B4", "#3CC78C", "#4FD84F", "#8FE24A", "#C6E852", "#E8CF5C", "#F4996A"], "clamp": true},
"legend": {"orient": "none", "legendX": 442, "legendY": 0, "direction": "vertical", "gradientLength": 237, "gradientThickness": 18, "title": null, "values": [0.5, 0.6, 0.7, 0.8, 0.9, 1], "format": ".1~f", "labelFontSize": 18, "labelBaseline": "middle", "labelOverlap": false, "gradientStrokeColor": "#262626", "gradientStrokeWidth": 1, "labelOffset": 6, "padding": 0}}
}
}
],
"config": {
"font": "DejaVu Sans",
"view": {"stroke": "#262626", "strokeWidth": 1},
"axis": {"labelFont": "DejaVu Sans", "titleFont": "DejaVu Sans", "labelFontSize": 18, "titleFontSize": 18, "titleFontWeight": "normal", "labelColor": "#262626", "titleColor": "#262626", "domainColor": "#262626", "ticks": false, "gridColor": "#DCDCDC", "gridWidth": 1},
"axisX": {"labelPadding": 9, "titlePadding": 4},
"axisY": {"labelPadding": 6, "titlePadding": 10},
"title": {"font": "DejaVu Sans", "fontSize": 17, "fontWeight": "bold", "color": "#111111"},
"legend": {"labelFont": "DejaVu Sans", "labelColor": "#262626"}
}
}
